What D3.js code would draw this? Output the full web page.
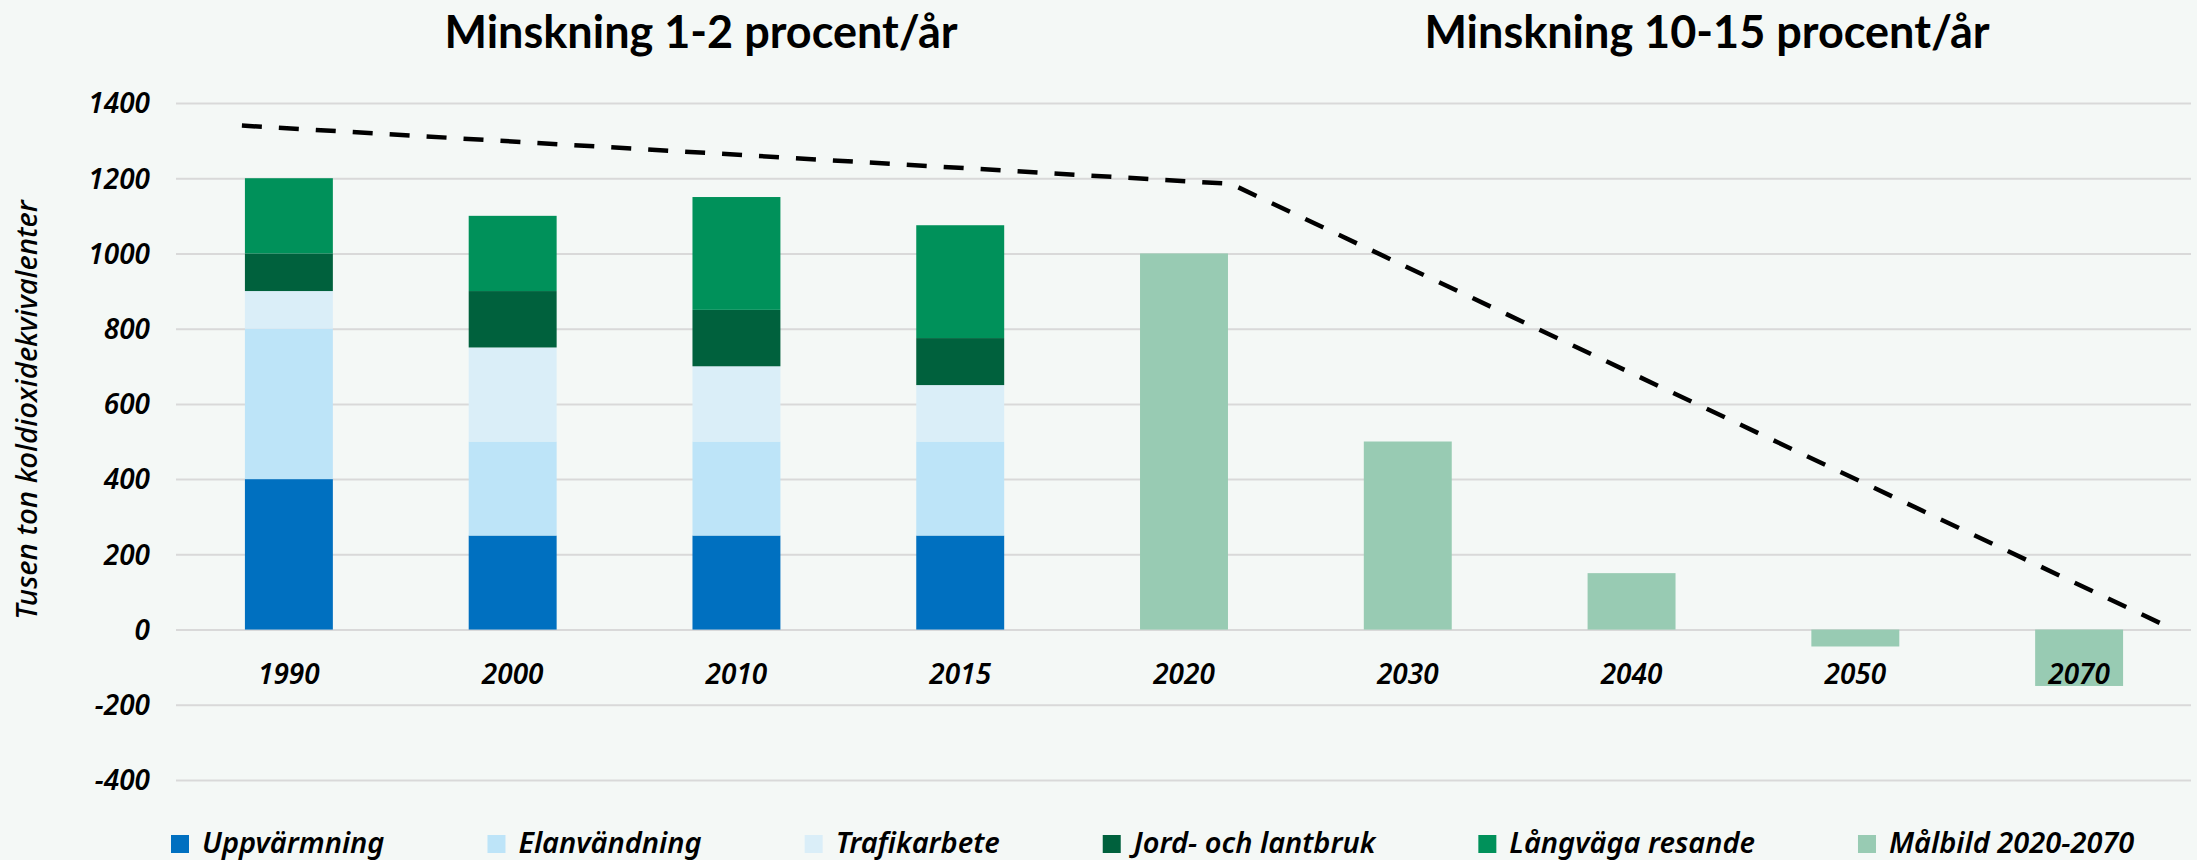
<!DOCTYPE html>
<html>
<head>
<meta charset="utf-8">
<script src="https://cdn.jsdelivr.net/npm/d3@7"></script>
<style>
  html, body { margin: 0; padding: 0; background: #F4F8F6; }
  svg { display: block; }
</style>
</head>
<body>
<svg id="chart" width="2197" height="860"></svg>
<script>
// ---------- data ----------
const categories = ["1990", "2000", "2010", "2015", "2020", "2030", "2040", "2050", "2070"];
const uppvarmning   = [400, 250, 250, 250, 0, 0, 0, 0, 0];
const elanvandning  = [400, 250, 250, 250, 0, 0, 0, 0, 0];
const trafikarbete  = [100, 250, 200, 150, 0, 0, 0, 0, 0];
const jordLantbruk  = [100, 150, 150, 125, 0, 0, 0, 0, 0];
const langvaga      = [200, 200, 300, 300, 0, 0, 0, 0, 0];
const malbild       = [0, 0, 0, 0, 1000, 500, 150, -45, -150];
// dashed trend line: position in category units (0 = 1990) and value
const trendPos = [-0.21, 4.21, 8.37];
const trendVal = [1340, 1185, 15];
const yTicks = [-400, -200, 0, 200, 400, 600, 800, 1000, 1200, 1400];
const titles = ["Minskning 1-2 procent/år", "Minskning 10-15 procent/år"];
const yTitle = "Tusen ton koldioxidekvivalenter";
const seriesNames = ["Uppvärmning", "Elanvändning", "Trafikarbete", "Jord- och lantbruk", "Långväga resande", "Målbild 2020-2070"];

// ---------- styles ----------
const colors = ["#0070C0", "#BDE4F8", "#DAEEF8", "#00613D", "#00915A", "#98CBB3"];
const font = "'Noto Sans', sans-serif";

const svg = d3.select("#chart");

const x = d3.scaleBand().domain(categories).range([177, 2191]).paddingInner(0.607).paddingOuter(0.3035);
const y = d3.scaleLinear().domain([-400, 1400]).range([780, 103]);
const xPos = d3.scaleLinear().domain([0, categories.length - 1])
  .range([x(categories[0]) + x.bandwidth() / 2, x(categories[categories.length - 1]) + x.bandwidth() / 2]);

// gridlines
const yAxis = d3.axisLeft(y).tickValues(yTicks).tickSize(-(2191 - 176)).tickFormat(d3.format("d")).tickPadding(26);
const gAxis = svg.append("g").attr("transform", "translate(176,0)").call(yAxis);
gAxis.select(".domain").remove();
gAxis.selectAll(".tick line").attr("stroke", "#D9D9D9").attr("stroke-width", 2);
gAxis.selectAll(".tick text")
  .attr("font-family", font).attr("font-style", "italic").attr("font-weight", 600)
  .attr("font-size", 28).attr("fill", "#000").attr("dy", "0.35em");

// stacked bars
const rows = categories.map((c, i) => ({
  cat: c, s0: uppvarmning[i], s1: elanvandning[i], s2: trafikarbete[i], s3: jordLantbruk[i], s4: langvaga[i]
}));
const stack = d3.stack().keys(["s0", "s1", "s2", "s3", "s4"]);
const stacked = stack(rows);
svg.append("g").selectAll("g").data(stacked).join("g")
  .attr("fill", (d, i) => colors[i])
  .selectAll("rect").data(d => d.filter(p => p[1] - p[0] > 0)).join("rect")
  .attr("x", d => x(d.data.cat))
  .attr("width", x.bandwidth())
  .attr("y", d => y(d[1]))
  .attr("height", d => y(d[0]) - y(d[1]));

// target bars
svg.append("g").attr("fill", colors[5]).selectAll("rect")
  .data(categories.map((c, i) => ({ cat: c, v: malbild[i] })).filter(d => d.v !== 0))
  .join("rect")
  .attr("x", d => x(d.cat))
  .attr("width", x.bandwidth())
  .attr("y", d => y(Math.max(0, d.v)))
  .attr("height", d => Math.abs(y(d.v) - y(0)));

// category labels
svg.append("g").selectAll("text").data(categories).join("text")
  .attr("x", d => x(d) + x.bandwidth() / 2)
  .attr("y", 684)
  .attr("text-anchor", "middle")
  .attr("font-family", font).attr("font-style", "italic").attr("font-weight", 600)
  .attr("font-size", 28).attr("fill", "#000")
  .text(d => d);

// dashed trend line
const line = d3.line().x(d => xPos(d[0])).y(d => y(d[1]));
svg.append("path")
  .datum(trendPos.map((p, i) => [p, trendVal[i]]))
  .attr("d", line)
  .attr("fill", "none").attr("stroke", "#000").attr("stroke-width", 4.5)
  .attr("stroke-dasharray", "20,17");

// titles
const titleX = [701, 1707];
svg.append("g").selectAll("text").data(titles).join("text")
  .attr("x", (d, i) => titleX[i]).attr("y", 48)
  .attr("text-anchor", "middle")
  .attr("font-family", "Lato, sans-serif").attr("font-weight", 700)
  .attr("font-size", 45).attr("fill", "#000")
  .text(d => d);

// y axis title
svg.append("text")
  .attr("transform", "translate(37,410) rotate(-90)")
  .attr("text-anchor", "middle")
  .attr("font-family", font).attr("font-style", "italic").attr("font-weight", 500)
  .attr("font-size", 29.5).attr("fill", "#000")
  .text(yTitle);

// legend
const leg = svg.append("g");
let lx = 171;
seriesNames.forEach((name, i) => {
  leg.append("rect").attr("x", lx).attr("y", 835).attr("width", 18).attr("height", 18).attr("fill", colors[i]);
  const t = leg.append("text").attr("x", lx + 31).attr("y", 853)
    .attr("font-family", font).attr("font-style", "italic").attr("font-weight", 600)
    .attr("font-size", 29).attr("fill", "#000").text(name);
  lx = lx + 31 + t.node().getComputedTextLength() + 103;
});
</script>
</body>
</html>
